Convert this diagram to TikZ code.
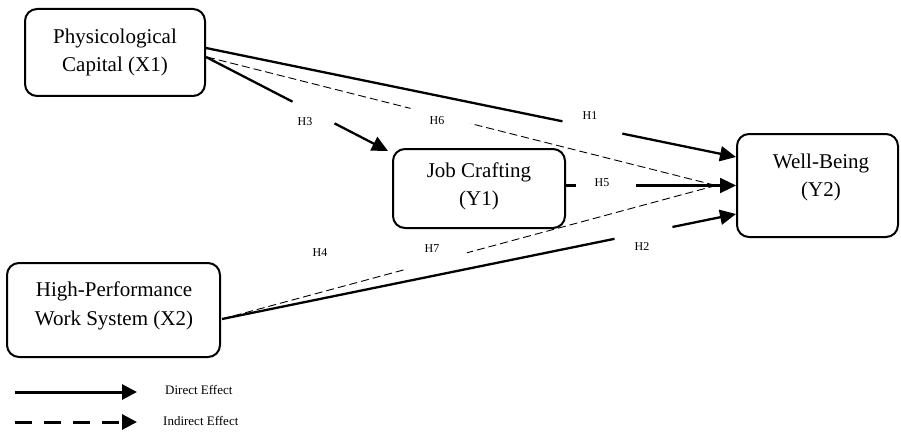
\documentclass[tikz,border=0pt]{standalone}
\usepackage{fontspec}
\setmainfont{Liberation Serif}
\usetikzlibrary{arrows.meta}
\tikzset{
  box/.style={draw, line width=2pt, rounded corners=12pt},
  boxtext/.style={align=center, font=\fontsize{21}{28.5}\selectfont, inner sep=0},
  direct/.style={line width=2.3pt, -{Triangle[length=16pt,width=15pt]}},
  indirect/.style={line width=0.9pt, dash pattern=on 8pt off 4pt},
  gapcut/.style={sloped, fill=white, inner sep=0, minimum height=7pt, minimum width=#1},
  hyp/.style={font=\fontsize{12}{14}\selectfont, inner sep=0},
  legendtext/.style={font=\fontsize{13}{15}\selectfont, inner sep=0, anchor=west},
}
\begin{document}
\begin{tikzpicture}[x=1pt,y=-1pt]
\useasboundingbox (0,0) rectangle (901,433);

% constructs
\node[box, minimum width=180pt, minimum height=87pt] (x1) at (115,52.5) {};
\node[boxtext] (x1t) at (115,52.5) {Physicological\\Capital (X1)};
\node[box, minimum width=213pt, minimum height=94pt] (x2) at (113.5,310) {};
\node[boxtext] (x2t) at (114,306) {High-Performance\\Work System (X2)};
\node[box, minimum width=172pt, minimum height=79pt] (jc) at (479,188.5) {};
\node[boxtext] (jct) at (479,186.5) {Job Crafting\\(Y1)};
\node[box, minimum width=161pt, minimum height=103pt] (wb) at (817.5,185.5) {};
\node[boxtext] (wbt) at (821,177.5) {Well-Being\\(Y2)};

% meeting point of the indirect paths
\coordinate (m) at ([xshift=-20pt]wb.west);

% direct effects
\draw[direct] ([yshift=4.5pt]x1.east) -- ([yshift=28.5pt]wb.west)
  node[gapcut=61pt, pos=0.729] {};
\draw[direct] ([shift={(1,9)}]x2.east) -- ([yshift=-28.5pt]wb.west)
  node[gapcut=59pt, pos=0.82] {};
\draw[direct] ([yshift=-4.5pt]x1.east) -- ([shift={(-4,3)}]jc.north west)
  node[gapcut=47pt, pos=0.591] {};
\draw[direct] (jc.east |- wb.west) -- (wb.west)
  node[gapcut=60pt, pos=0.233] {};

% indirect effects
\draw[indirect] ([shift={(1,4.5)}]x1.east) -- (m)
  node[gapcut=62pt, pos=0.459] {};
\draw[indirect] ([shift={(1,9)}]x2.east) -- (m)
  node[gapcut=64pt, pos=0.433] {};

% hypothesis labels
\node[hyp] (h1) at (590,116) {H1};
\node[hyp] (h2) at (642,247) {H2};
\node[hyp] (h3) at (305,122) {H3};
\node[hyp] (h4) at (320,253) {H4};
\node[hyp] (h5) at (602,183) {H5};
\node[hyp] (h6) at (437,121) {H6};
\node[hyp] (h7) at (432,249) {H7};

% legend
\coordinate (ls1) at (15,392);
\coordinate (le1) at (137,392);
\coordinate (ls2) at (15,422);
\coordinate (le2) at (137,422);
\draw[line width=3pt, -{Triangle[length=15pt,width=15pt]}] (ls1) -- (le1);
\draw[line width=3pt, dash pattern=on 17pt off 12pt, -{Triangle[length=15pt,width=15pt]}] (ls2) -- (le2);
\node[legendtext] (l1) at (165,390) {Direct Effect};
\node[legendtext] (l2) at (163,421) {Indirect Effect};
\end{tikzpicture}
\end{document}
